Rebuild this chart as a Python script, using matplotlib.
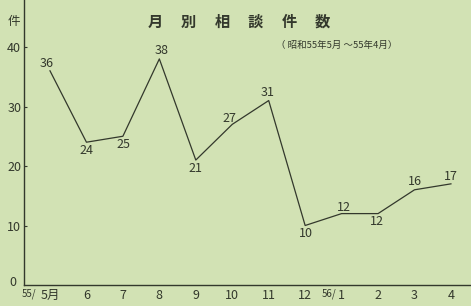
import matplotlib
matplotlib.use("Agg")
import matplotlib.pyplot as plt

plt.rcParams["font.family"] = ["Liberation Sans Narrow", "Noto Sans CJK JP", "DejaVu Sans"]

months = ["5月", "6", "7", "8", "9", "10", "11", "12", "1", "2", "3", "4"]
counts = [36, 24, 25, 38, 21, 27, 31, 10, 12, 12, 16, 17]
# label offsets in pixels (dx, dy) relative to each point
label_offsets = [(-3, 7), (0, -8), (1, -8), (2, 8), (0, -8), (-3, 6),
                 (-1, 8), (1, -8), (2, 6), (-1, -8), (0, 8), (0, 7)]
yticks = [0, 10, 20, 30, 40]

bg = "#d2e2b4"
ink = "#33382c"

fig = plt.figure(figsize=(4.71, 3.06), dpi=100, facecolor=bg)
ax = fig.add_axes([24 / 471, 21 / 306, 447 / 471, 285 / 306])
ax.set_facecolor(bg)

x = list(range(len(counts)))
ax.plot(x, counts, color=ink, lw=0.9)

for xi, v, (dx, dy) in zip(x, counts, label_offsets):
    ax.annotate(str(v), (xi, v), xytext=(dx, dy), textcoords="offset pixels",
                ha="center", va="center", fontsize=9, color=ink)

ax.set_xlim(-0.713, 11.55)
ax.set_ylim(0, 47.9)

for s in ["top", "right"]:
    ax.spines[s].set_visible(False)
for s in ["left", "bottom"]:
    ax.spines[s].set_color(ink)
    ax.spines[s].set_linewidth(1.0)

ax.set_yticks(yticks[1:])
ax.set_yticklabels([str(t) for t in yticks[1:]], fontsize=9, color=ink)
ax.tick_params(axis="y", direction="in", length=2, width=0.8, color=ink, pad=2)
fig.text(13 / 471, 1 - 283 / 306, "0", ha="center", va="center", fontsize=9, color=ink)
fig.text(14 / 471, 1 - 22 / 306, "件", ha="center", va="center", fontsize=9, color=ink)

ax.set_xticks(x)
ax.set_xticklabels(months, fontsize=9, color=ink)
ax.tick_params(axis="x", length=0, pad=3)
fig.text(29 / 471, 1 - 294 / 306, "55/", ha="center", va="center", fontsize=7, color=ink)
fig.text(336 / 471, 1 - 294 / 306, "56/", ha="right", va="center", fontsize=7, color=ink)

title = "月別相談件数"
for i, ch in enumerate(title):
    fig.text((155 + i * 33.5) / 471, 1 - 22 / 306, ch, ha="center", va="center",
             fontsize=11, fontweight="bold", color=ink)
fig.text(337 / 471, 1 - 45 / 306, "（ 昭和55年5月 ～55年4月）", ha="center",
         va="center", fontsize=6.8, color=ink)

fig.savefig("out.png", dpi=100, facecolor=bg)
